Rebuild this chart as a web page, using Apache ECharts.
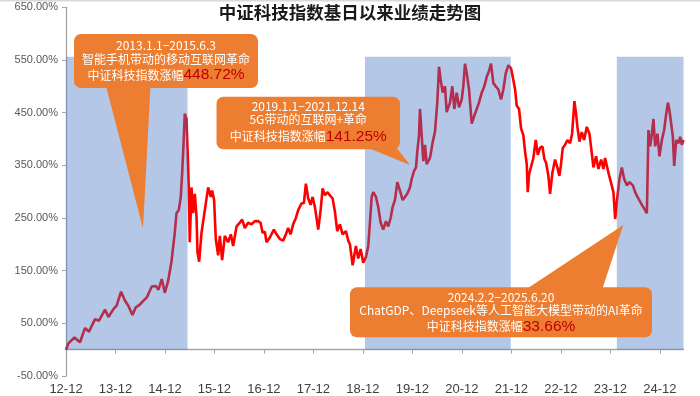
<!DOCTYPE html>
<html>
<head>
<meta charset="utf-8">
<script src="https://cdn.jsdelivr.net/npm/echarts@6/dist/echarts.min.js"></script>
<style>
html,body{margin:0;padding:0;background:#fff;}
#c{width:700px;height:396px;}
</style>
</head>
<body>
<div id="c"></div>
<script>
// ---- data (time as decimal year; 2013.0 = base date 2012-12-31) ----
const titleText = '中证科技指数基日以来业绩走势图';
const timeYears = [
2013.000,2013.049,2013.170,2013.283,2013.384,2013.465,2013.586,2013.667,2013.789,2013.857,2013.959,
2014.025,2014.112,2014.193,2014.262,2014.343,2014.409,2014.496,2014.565,2014.632,2014.733,2014.814,2014.869,2014.935,2014.996,
2015.063,2015.131,2015.198,2015.232,2015.279,2015.319,2015.346,2015.374,2015.400,2015.435,2015.455,2015.481,2015.501,2015.536,2015.568,2015.603,2015.637,2015.657,2015.690,2015.738,2015.805,2015.872,2015.926,2015.952,2015.993,
2016.027,2016.074,2016.108,2016.155,2016.209,2016.276,2016.331,2016.377,2016.446,2016.513,2016.559,2016.614,2016.680,2016.749,2016.816,2016.883,2016.931,2016.972,
2017.018,2017.052,2017.119,2017.200,2017.255,2017.321,2017.388,2017.443,2017.489,2017.538,2017.590,2017.645,2017.692,2017.760,2017.807,2017.847,2017.894,2017.942,2017.983,
2018.029,2018.096,2018.145,2018.185,2018.231,2018.278,2018.333,2018.387,2018.434,2018.480,2018.535,2018.589,2018.656,2018.703,2018.737,2018.792,2018.858,2018.905,2018.953,
2019.006,2019.061,2019.107,2019.141,2019.176,2019.208,2019.263,2019.309,2019.358,2019.410,2019.465,2019.511,2019.560,2019.600,2019.647,2019.694,2019.748,2019.803,2019.849,2019.896,2019.950,2019.985,
2020.031,2020.072,2020.098,2020.132,2020.153,2020.187,2020.219,2020.254,2020.288,2020.355,2020.409,2020.456,2020.502,2020.537,2020.571,2020.612,2020.658,2020.692,2020.759,2020.806,2020.846,2020.895,2020.941,2020.996,
2021.028,2021.062,2021.097,2021.143,2021.198,2021.250,2021.299,2021.345,2021.400,2021.453,2021.501,2021.548,2021.588,2021.635,2021.683,2021.736,2021.790,2021.837,2021.886,2021.938,2021.993,
2022.039,2022.074,2022.108,2022.154,2022.195,2022.241,2022.276,2022.310,2022.330,2022.357,2022.397,2022.444,2022.492,2022.533,2022.579,2022.626,2022.666,2022.700,2022.747,2022.781,2022.828,2022.882,2022.929,2022.969,2022.998,
2023.038,2023.085,2023.131,2023.186,2023.226,2023.273,2023.307,2023.333,2023.374,2023.422,2023.469,2023.523,2023.576,2023.624,2023.657,2023.711,2023.758,2023.813,2023.859,2023.893,2023.960,
2024.009,2024.061,2024.096,2024.130,2024.183,2024.231,2024.278,2024.332,2024.385,2024.454,2024.500,2024.547,2024.587,2024.636,2024.682,2024.737,2024.769,2024.803,2024.838,2024.870,2024.904,2024.951,2024.991,
2025.040,2025.086,2025.127,2025.161,2025.194,2025.228,2025.262,2025.289,2025.329,2025.376,2025.410,2025.444,2025.477
];
const returnsPct = [
0,12,23,14,41,34,58,55,76,62,77,
84,110,93,83,66,80,86,93,99,120,121,114,134,108,
130,167,222,259,265,290,333,389,448,438,383,308,204,308,259,296,253,185,167,222,265,308,290,302,284,
210,179,216,170,216,204,219,197,234,241,247,231,241,238,244,244,241,222,
224,204,213,228,219,210,207,219,231,219,238,250,265,278,278,315,287,275,290,
271,228,265,306,293,299,293,287,262,225,238,219,225,207,200,160,197,173,191,
165,176,197,241,290,299,290,271,241,228,244,234,250,271,284,318,302,284,290,296,308,324,
339,346,376,407,457,407,358,389,352,364,394,414,469,537,512,488,500,451,469,500,457,488,460,475,
500,543,525,494,429,444,457,469,488,500,518,529,543,506,500,494,475,494,525,540,534,
512,494,463,457,420,407,376,352,299,333,333,364,398,370,383,386,362,355,330,296,336,361,346,330,349,
383,389,398,392,410,472,447,423,395,413,398,423,410,373,346,367,343,361,343,364,336,
318,299,248,281,324,346,324,312,318,312,299,290,287,275,268,259,417,386,410,438,386,410,367,
398,417,447,469,454,429,404,349,398,392,404,389,398
];
const xTickYears = [2013,2014,2015,2016,2017,2018,2019,2020,2021,2022,2023,2024,2025];
const periodStart = [2013.000, 2019.040, 2024.130];
const periodEnd   = [2015.455, 2021.987, 2025.477];
const periodTop = 556;
const callout1 = ['2013.1.1\u22122015.6.3', '智能手机带动的移动互联网革命', '中证科技指数涨幅', '448.72%'];
const callout2 = ['2019.1.1\u22122021.12.14', '5G带动的互联网+革命', '中证科技指数涨幅', '141.25%'];
const callout3 = ['2024.2.2\u22122025.6.20', 'ChatGDP、Deepseek等人工智能大模型带动的AI革命', '中证科技指数涨幅', '33.66%'];

// ---- chart ----
const chart = echarts.init(document.getElementById('c'), null, {renderer: 'canvas'});
const lineData = timeYears.map((t, i) => [t, returnsPct[i]]);
const areas = periodStart.map((s, i) => [{xAxis: s, yAxis: 0}, {xAxis: periodEnd[i], yAxis: periodTop}]);

const ORANGE = '#ED7D31';
const cjk = '"Noto Sans CJK SC", "Noto Sans", sans-serif';
function callout(lines, box, pointer, ys) {
  const cx = box[0] + box[2] / 2;
  return {
    type: 'group', z: 100,
    children: [
      {type: 'polygon', shape: {points: pointer}, style: {fill: ORANGE}, z: 100},
      {type: 'rect', shape: {x: box[0], y: box[1], width: box[2], height: box[3], r: 7}, style: {fill: ORANGE}, z: 100},
      {type: 'text', x: cx, y: ys[0], z: 101, style: {text: lines[0], fill: '#fff', font: '12px ' + cjk, align: 'center', verticalAlign: 'middle'}},
      {type: 'text', x: cx, y: ys[1], z: 101, style: {text: lines[1], fill: '#fff', font: '12px ' + cjk, align: 'center', verticalAlign: 'middle'}},
      {type: 'text', x: cx, y: ys[2], z: 101, style: {
        text: '{a|' + lines[2] + '}{b|' + lines[3] + '}', align: 'center', verticalAlign: 'middle',
        rich: {
          a: {fill: '#fff', fontSize: 12, fontFamily: cjk},
          b: {fill: '#C00000', fontSize: 15.5, fontFamily: '"Liberation Sans", Arial, sans-serif'}
        }
      }}
    ]
  };
}

chart.setOption({
  animation: false,
  backgroundColor: '#fff',
  title: {
    text: titleText, left: 'center', top: 0, padding: [4, 0, 0, 6],
    textStyle: {fontFamily: cjk, fontSize: 17.5, fontWeight: 'bold', color: '#1a1a1a'}
  },
  grid: {left: 66, right: 16.5, top: 7.3, bottom: 10.7, containLabel: false},
  xAxis: {
    type: 'value', min: 2013, max: 2025.477,
    splitLine: {show: false},
    axisLine: {onZero: true, lineStyle: {color: '#a6a6a6', width: 1.3}},
    axisTick: {show: true, length: 4, customValues: xTickYears, lineStyle: {color: '#a6a6a6'}},
    axisLabel: {
      customValues: xTickYears, margin: 7,
      color: '#404040', fontSize: 13, fontFamily: '"Liberation Sans", Arial, sans-serif',
      formatter: v => String(Math.round(v) - 1).slice(2) + '-12'
    }
  },
  yAxis: {
    type: 'value', min: -50, max: 650, interval: 100,
    splitLine: {show: false},
    axisLine: {show: true, lineStyle: {color: '#a6a6a6', width: 1.3}},
    axisTick: {show: true, length: 4, lineStyle: {color: '#a6a6a6'}},
    axisLabel: {
      margin: 8, color: '#595959', fontSize: 11, fontFamily: '"Liberation Sans", Arial, sans-serif',
      formatter: v => v.toFixed(2) + '%'
    }
  },
  series: [{
    type: 'line', data: lineData, showSymbol: false, smooth: false, z: 3,
    lineStyle: {color: '#FF0000', width: 2.6},
    markArea: {
      z: 5, silent: true,
      itemStyle: {color: 'rgba(68,114,196,0.4)', borderWidth: 0},
      emphasis: {disabled: true},
      label: {show: false},
      data: areas
    }
  }],
  graphic: [
    {type: 'rect', shape: {x: 0, y: 0, width: 700, height: 1.5}, style: {fill: '#d9d9d9'}, z: 200},
    callout(callout1, [74, 34, 184, 54], [[106, 86], [150.5, 86], [143, 228.3]], [45, 59.5, 75]),
    callout(callout2, [216.5, 96.7, 183.5, 52.6], [[366, 147], [396, 147], [410, 165]], [106.7, 119.5, 136.5]),
    callout(callout3, [350, 287.3, 302, 50], [[525, 290], [602, 290], [623.3, 225]], [297, 310.5, 326.7])
  ]
});
</script>
</body>
</html>
